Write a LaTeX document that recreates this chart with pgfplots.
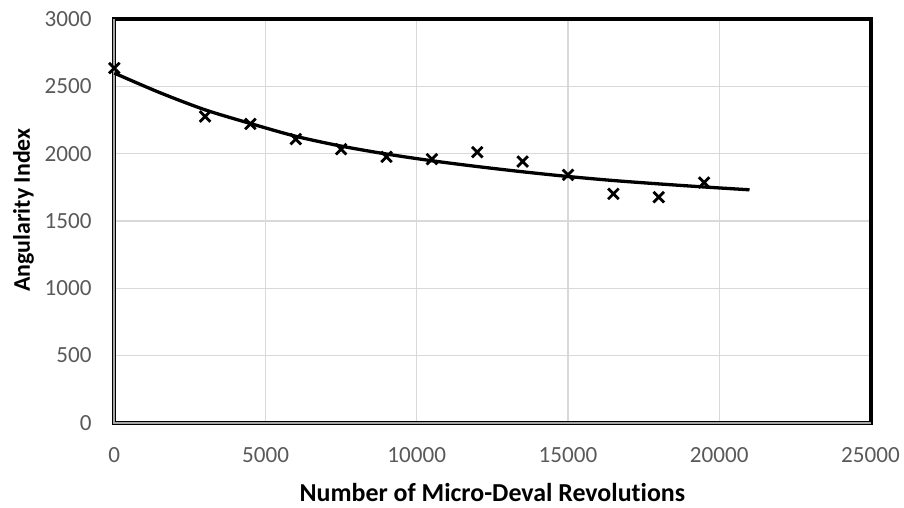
\documentclass[border=0pt]{standalone}
\usepackage{pgfplots}
\pgfplotsset{compat=1.18}
\usepackage{fontspec}
\setmainfont{Carlito}[Ligatures={NoCommon}]
\definecolor{tickgray}{HTML}{595959}
\definecolor{gridgray}{HTML}{D9D9D9}
\definecolor{axgray}{HTML}{A6A6A6}
\begin{document}
\begin{tikzpicture}
\begin{axis}[
  at={(0,0)}, anchor=south west,
  scale only axis,
  width=756.2bp, height=403.4bp,
  xmin=0, xmax=25000, ymin=0, ymax=3000,
  xtick={0,5000,10000,15000,20000,25000},
  ytick={0,500,1000,1500,2000,2500,3000},
  scaled ticks=false,
  grid=major,
  major grid style={draw=gridgray, line width=1.4bp},
  major tick length=0pt,
  axis line style={draw=none},
  clip=false,
  /pgf/number format/1000 sep={},
  /pgf/number format/assume math mode=true,
  xticklabel style={font=\fontsize{23.2}{27}\selectfont, text=tickgray, inner sep=0pt, anchor=north, yshift=-25bp},
  yticklabel style={font=\fontsize{23.2}{27}\selectfont, text=tickgray, inner sep=0pt, anchor=east, xshift=-22.6bp},
  xlabel={Number of Micro-Deval Revolutions},
  ylabel={Angularity Index},
  xlabel style={font=\fontsize{26}{30}\selectfont\bfseries, at={(axis description cs:0.5,-0.1948)}, anchor=base, inner sep=0pt},
  ylabel style={font=\fontsize{24}{30}\selectfont\bfseries, at={(axis description cs:-0.1115,0.527)}, anchor=base, inner sep=0pt},
]
\draw[black, line width=4bp] (rel axis cs:0,0) -- (rel axis cs:0,1) -- (rel axis cs:1,1) -- (rel axis cs:1,0) -- cycle;
\draw[axgray, line width=1.6bp] (rel axis cs:0,1) -- (rel axis cs:0,0) -- (rel axis cs:1,0);
\addplot[black, line width=3.3bp, smooth, no marks] coordinates {
(0,2600) (1500,2455) (3000,2327) (4500,2225) (6000,2130) (7500,2057) (9000,1998)
(10500,1948) (12000,1905) (13500,1866) (15000,1831) (16500,1801) (18000,1776)
(19500,1753) (21000,1732)
};
\addplot[only marks, mark=x, mark size=7.5bp, black, line width=2.8bp] coordinates {
(0,2637) (3000,2277) (4500,2222) (6000,2109) (7500,2034) (9000,1977)
(10500,1960) (12000,2012) (13500,1942) (15000,1843) (16500,1702) (18000,1677)
(19500,1786)
};
\end{axis}
\pgfresetboundingbox
\path[use as bounding box] (-114.3bp,-85.3bp) rectangle (789.7bp,422.7bp);
\end{tikzpicture}
\end{document}
